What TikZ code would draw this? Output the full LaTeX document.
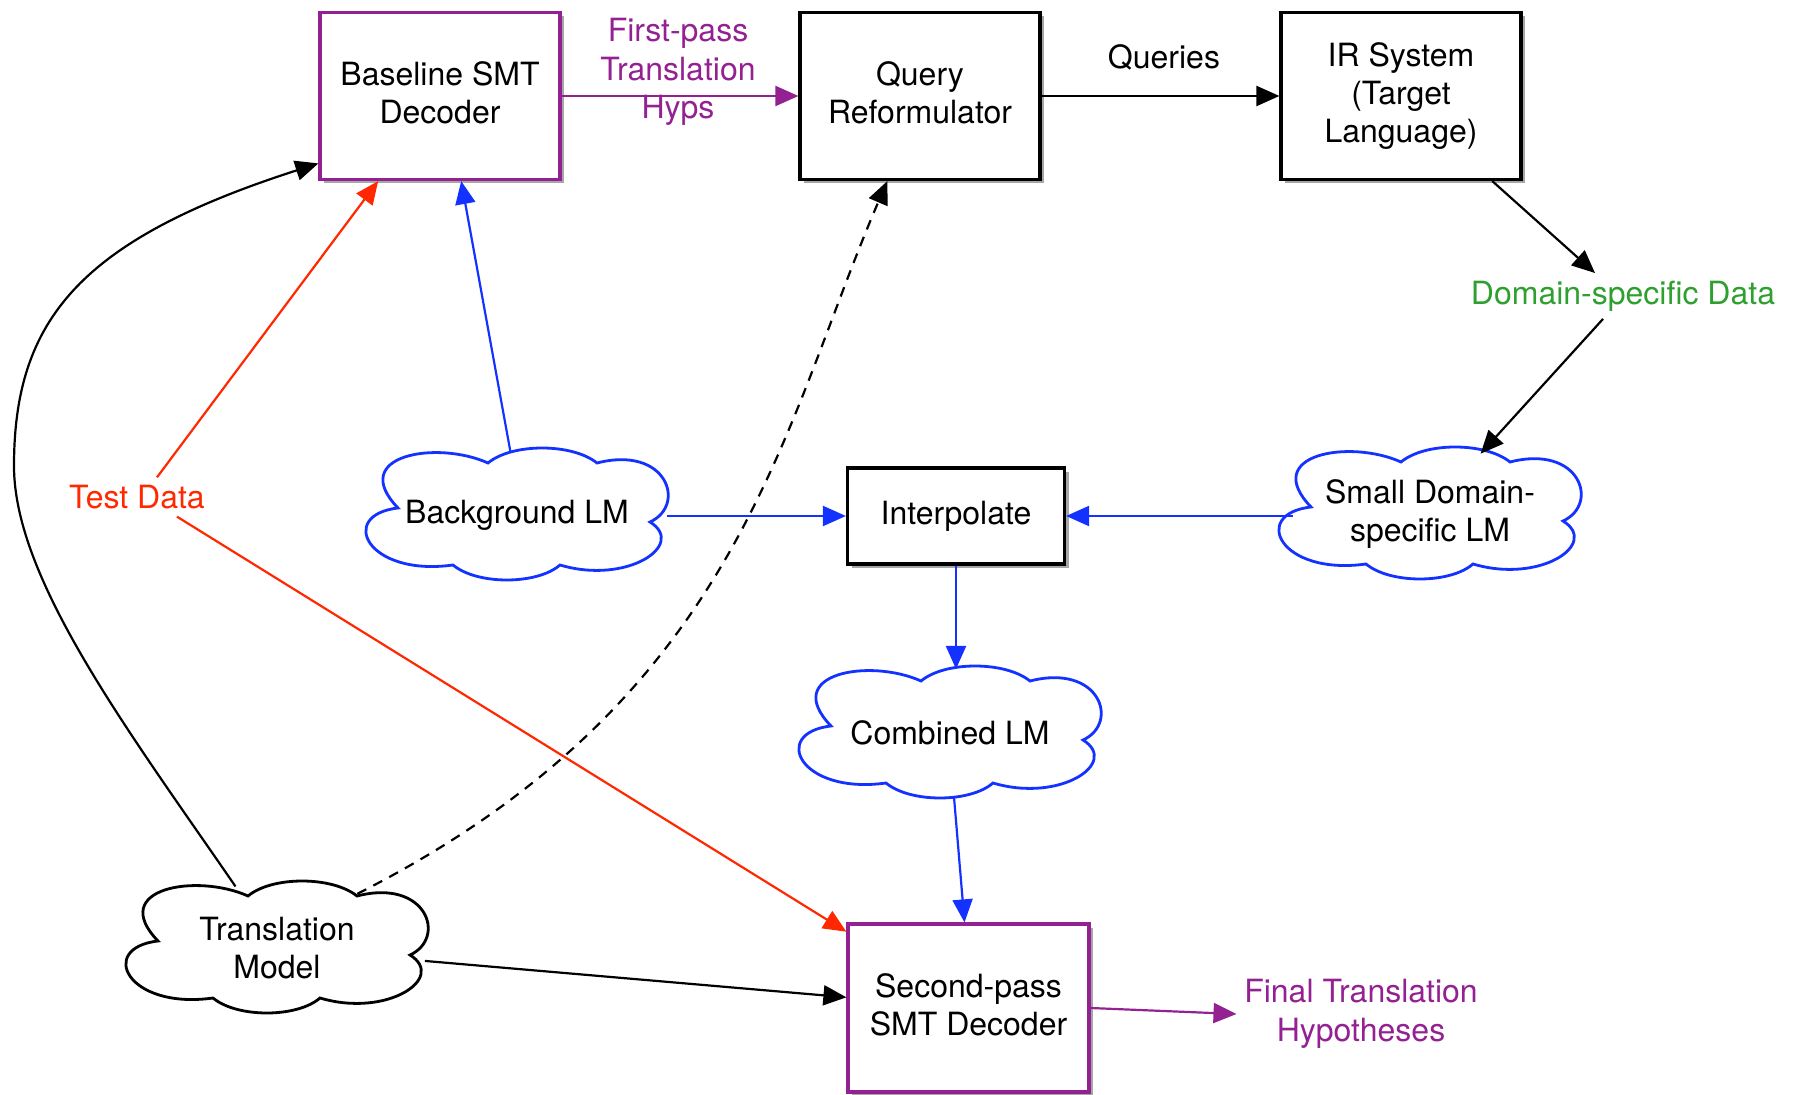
\documentclass[tikz,border=0pt]{standalone}
\usepackage{fontspec}
\setmainfont{TeX Gyre Heros}
\usetikzlibrary{shapes.geometric,shadows,arrows.meta}

\definecolor{hypsPurple}{RGB}{148,33,146}
\definecolor{lmBlue}{RGB}{20,50,255}
\definecolor{testRed}{RGB}{255,40,0}
\definecolor{dataGreen}{RGB}{47,160,47}

\tikzset{every picture/.style={line width=1.1pt}}
\tikzset{
  boxshadow/.style={drop shadow={shadow xshift=2pt,shadow yshift=-2pt,opacity=.35,fill=black}},
  module/.style={draw=black,line width=1.6pt,fill=white,align=center,text depth=3.5pt,minimum width=120pt,minimum height=83.5pt,boxshadow},
  decoder/.style={module,draw=hypsPurple},
  cloudlabel/.style={ellipse,align=center,inner sep=0pt,outer sep=0pt,minimum width=151pt,minimum height=64pt},
  lmcloud/.pic={
    \draw[pic actions] (-119,7) .. controls (-180,0) and (-150,-62) .. (-64,-50)
      .. controls (-40,-70) and (20,-70) .. (43,-50)
      .. controls (110,-70) and (170,-30) .. (133,-7)
      .. controls (170,10) and (150,70) .. (80,52)
      .. controls (55,72) and (-5,72) .. (-29,52)
      .. controls (-80,75) and (-170,60) .. (-119,7) -- cycle;
  },
  flow/.style={-{Triangle[length=11.5pt,width=10pt]}},
}

\begin{document}
\begin{tikzpicture}[x=0.5pt,y=0.5pt,yscale=-1,xscale=1,every node/.style={font=\fontsize{16}{19.2}\selectfont}]
\useasboundingbox (0,0) rectangle (1793,1095);

%Shape: Rectangle [decoders and modules]
\node[decoder] (base) at (440,96) {Baseline SMT\\Decoder};
\node[module] (query) at (920,96) {Query\\Reformulator};
\node[module] (irsys) at (1401,96) {IR System\\(Target\\Language)};
\node[module,minimum width=108.5pt,minimum height=48pt] (interp) at (956,516) {Interpolate};
\node[decoder,minimum width=120.5pt,minimum height=84pt] (second) at (968.5,1008) {Second-pass\\SMT Decoder};

%Shape: Cloud [language models]
\pic[draw=lmBlue,line width=1.4pt,fill=white] at (517,515) {lmcloud};
\node[cloudlabel] (bglm) at (517,515) {Background LM};
\pic[draw=lmBlue,line width=1.4pt,fill=white] at (1430,514) {lmcloud};
\node[cloudlabel] (smalllm) at (1430,514) {Small Domain-\\specific LM};
\pic[draw=lmBlue,line width=1.4pt,fill=white] at (950,733) {lmcloud};
\node[cloudlabel] (comblm) at (950,733) {Combined LM};
\pic[draw=black,line width=1.4pt,fill=white] at (277,948) {lmcloud};
\node[cloudlabel] (tmodel) at (277,948) {Translation\\Model};

% Text Node
\node[text=hypsPurple,align=center] (firstpass) at (678,72) {First-pass\\Translation\\Hyps};
% Text Node
\node (queries) at (1164,57) {Queries};
% Text Node
\node[text=dataGreen] (domdata) at (1623,296) {Domain-specific Data};
% Text Node
\node[text=testRed] (testdata) at (137,497) {Test Data};
% Text Node
\node[text=hypsPurple,align=center] (finalhyps) at (1361,1014) {Final Translation\\Hypotheses};

%Straight Lines
\draw[flow,hypsPurple] (base.east) -- (query.west);
\draw[flow] (query.east) -- (irsys.west);
\draw[flow] (irsys.-43) -- ([xshift=-14pt]domdata.north);
\draw[flow] ([xshift=-10pt]domdata.south) -- (smalllm.50);
\draw[flow,lmBlue] ([xshift=7pt]smalllm.west |- interp.east) -- (interp.east);
\draw[flow,lmBlue] ([xshift=-4pt]bglm.east |- interp.west) -- (interp.west);
\draw[flow,lmBlue] (bglm.96) -- (base.-76);
\draw[flow,lmBlue] (interp.south) -- (interp.south |- comblm.north);
\draw[flow,lmBlue] ([xshift=2pt]comblm.south) -- ([xshift=-2pt]second.north);
\draw[flow] (tmodel.-5) -- (second.175);
\draw[flow,testRed] ([xshift=10pt]testdata.north) -- (base.-126);
\draw[flow,testRed] ([xshift=20pt]testdata.south) -- (second.148);
\draw[flow,hypsPurple] (second.east) -- (finalhyps.west);

%Curve Lines
\draw[flow] (tmodel.124) .. controls (130,733) and (14,580) .. (14,466) .. controls (14,320) and (80,240) .. (base.-151);
\draw[flow,dash pattern=on 5pt off 4pt] (tmodel.34) .. controls (740,700) and (780,430) .. (query.-111);
\end{tikzpicture}
\end{document}
